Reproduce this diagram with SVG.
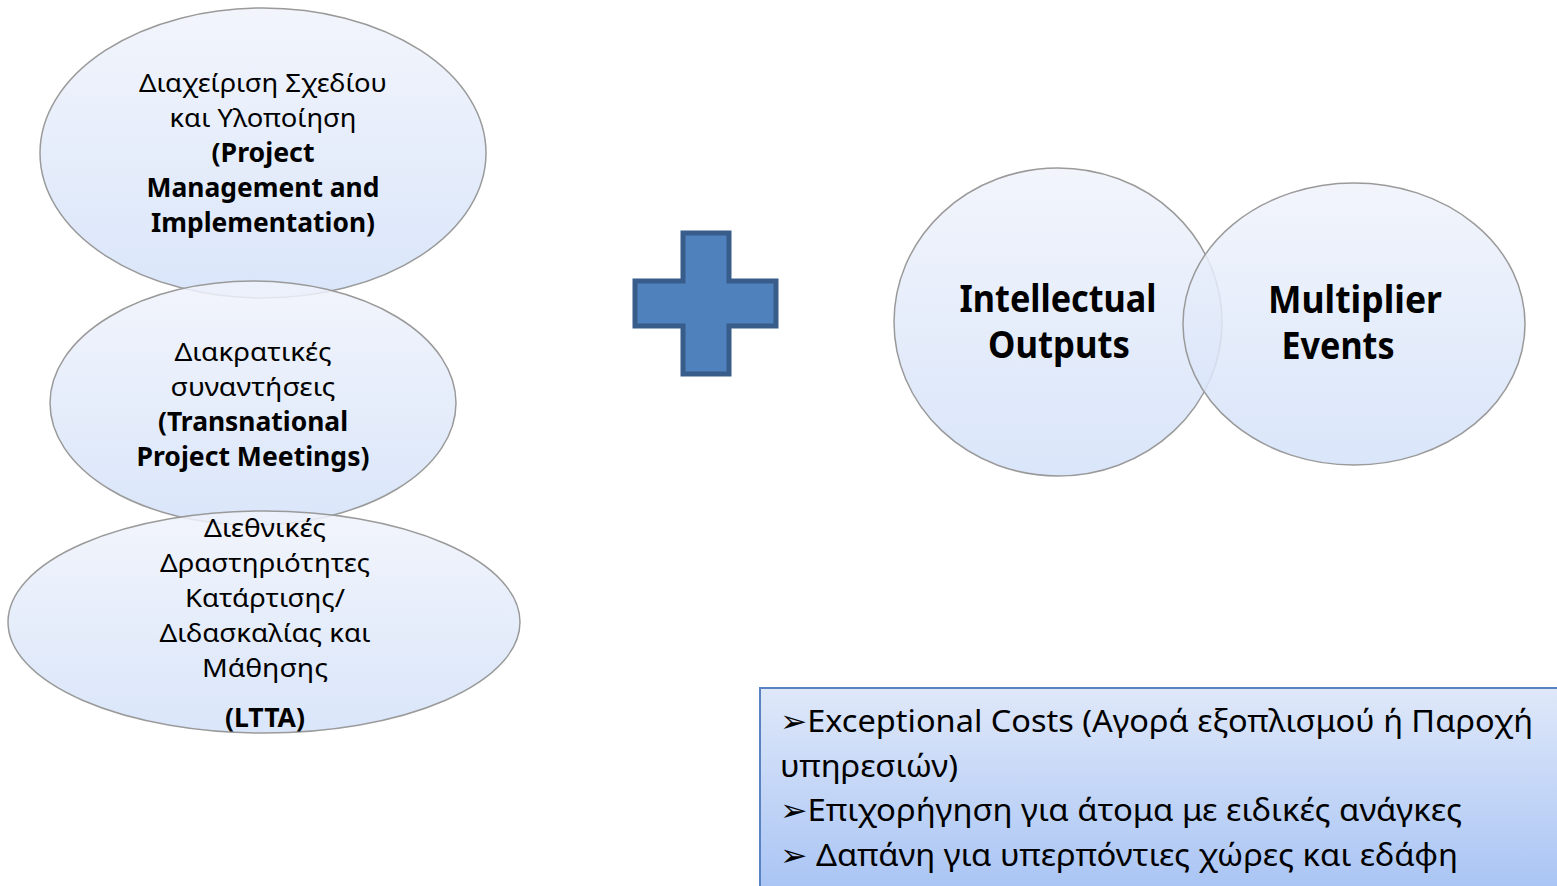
<svg xmlns="http://www.w3.org/2000/svg" width="1557" height="886" viewBox="0 0 1557 886">
<defs>
<linearGradient id="eg" x1="0" y1="0" x2="0" y2="1">
<stop offset="0" stop-color="#f0f3fb"/>
<stop offset="1" stop-color="#d3e1f9"/>
</linearGradient>
<linearGradient id="bg" x1="0" y1="0" x2="0" y2="1">
<stop offset="0" stop-color="#dfe8f9"/>
<stop offset="1" stop-color="#a7c3f4"/>
</linearGradient>
</defs>
<style>
.ell{fill:url(#eg);fill-opacity:0.85;stroke:#9a9a9a;stroke-width:1.5}
.t{font-family:"Noto Sans","Open Sans","DejaVu Sans",sans-serif;font-size:26px;fill:#000;text-anchor:middle}
.b{font-weight:bold}
.big{font-family:"Noto Sans","Open Sans","DejaVu Sans",sans-serif;font-size:37px;font-weight:bold;fill:#000;text-anchor:middle}
.bx{font-family:"Noto Sans","Open Sans","DejaVu Sans",sans-serif;font-size:31px;fill:#000}
</style>
<rect width="1557" height="886" fill="#ffffff"/>
<g id="node-pm">
<ellipse class="ell" cx="263" cy="153" rx="223" ry="145"/>
</g>
<g id="node-tpm">
<ellipse class="ell" cx="253" cy="403" rx="203" ry="122"/>
</g>
<g id="node-ltta">
<ellipse class="ell" cx="264" cy="622" rx="256" ry="111"/>
</g>
<g id="labels-left">
<text class="t" x="263" y="92" textLength="248" lengthAdjust="spacingAndGlyphs">Διαχείριση Σχεδίου</text>
<text class="t" x="263" y="127" textLength="187" lengthAdjust="spacingAndGlyphs">και Υλοποίηση</text>
<text class="t b" x="263" y="162" textLength="103" lengthAdjust="spacingAndGlyphs">(Project</text>
<text class="t b" x="263" y="197" textLength="233" lengthAdjust="spacingAndGlyphs">Management and</text>
<text class="t b" x="263" y="232" textLength="224" lengthAdjust="spacingAndGlyphs">Implementation)</text>
<text class="t" x="253" y="361" textLength="157" lengthAdjust="spacingAndGlyphs">Διακρατικές</text>
<text class="t" x="253" y="396" textLength="165" lengthAdjust="spacingAndGlyphs">συναντήσεις</text>
<text class="t b" x="253" y="431" textLength="190" lengthAdjust="spacingAndGlyphs">(Transnational</text>
<text class="t b" x="253" y="466" textLength="233" lengthAdjust="spacingAndGlyphs">Project Meetings)</text>
<text class="t" x="265" y="537" textLength="122" lengthAdjust="spacingAndGlyphs">Διεθνικές</text>
<text class="t" x="265" y="572" textLength="210" lengthAdjust="spacingAndGlyphs">Δραστηριότητες</text>
<text class="t" x="265" y="607" textLength="160" lengthAdjust="spacingAndGlyphs">Κατάρτισης/</text>
<text class="t" x="265" y="642" textLength="211" lengthAdjust="spacingAndGlyphs">Διδασκαλίας και</text>
<text class="t" x="265" y="677" textLength="126" lengthAdjust="spacingAndGlyphs">Μάθησης</text>
<text class="t b" x="265" y="727" textLength="80" lengthAdjust="spacingAndGlyphs">(LTTA)</text>
</g>
<g id="plus">
<path d="M683,233 H729 V281 H776 V326 H729 V374 H683 V326 H635 V281 H683 Z" fill="#4f81bd" stroke="#385d8a" stroke-width="5"/>
</g>
<g id="node-io">
<ellipse class="ell" cx="1058" cy="322" rx="164" ry="154"/>
</g>
<g id="node-me">
<ellipse class="ell" cx="1354" cy="324" rx="171" ry="141"/>
</g>
<g id="labels-right">
<text class="big" x="1058" y="312" textLength="197" lengthAdjust="spacingAndGlyphs">Intellectual</text>
<text class="big" x="1059" y="358" textLength="142" lengthAdjust="spacingAndGlyphs">Outputs</text>
<text class="big" x="1355" y="313" textLength="174" lengthAdjust="spacingAndGlyphs">Multiplier</text>
<text class="big" x="1338" y="359" textLength="113" lengthAdjust="spacingAndGlyphs">Events</text>
</g>
<g id="node-costs">
<rect x="760" y="688" width="805" height="210" fill="url(#bg)" stroke="#5b82c0" stroke-width="2"/>
<text class="bx" x="780" y="732" textLength="753" lengthAdjust="spacingAndGlyphs">➢Exceptional Costs (Αγορά εξοπλισμού ή Παροχή</text>
<text class="bx" x="780" y="777" textLength="178" lengthAdjust="spacingAndGlyphs">υπηρεσιών)</text>
<text class="bx" x="780" y="821" textLength="682" lengthAdjust="spacingAndGlyphs">➢Επιχορήγηση για άτομα με ειδικές ανάγκες</text>
<text class="bx" x="780" y="866" textLength="678" lengthAdjust="spacingAndGlyphs">➢ Δαπάνη για υπερπόντιες χώρες και εδάφη</text>
</g>
<g id="connectors"></g>
</svg>
